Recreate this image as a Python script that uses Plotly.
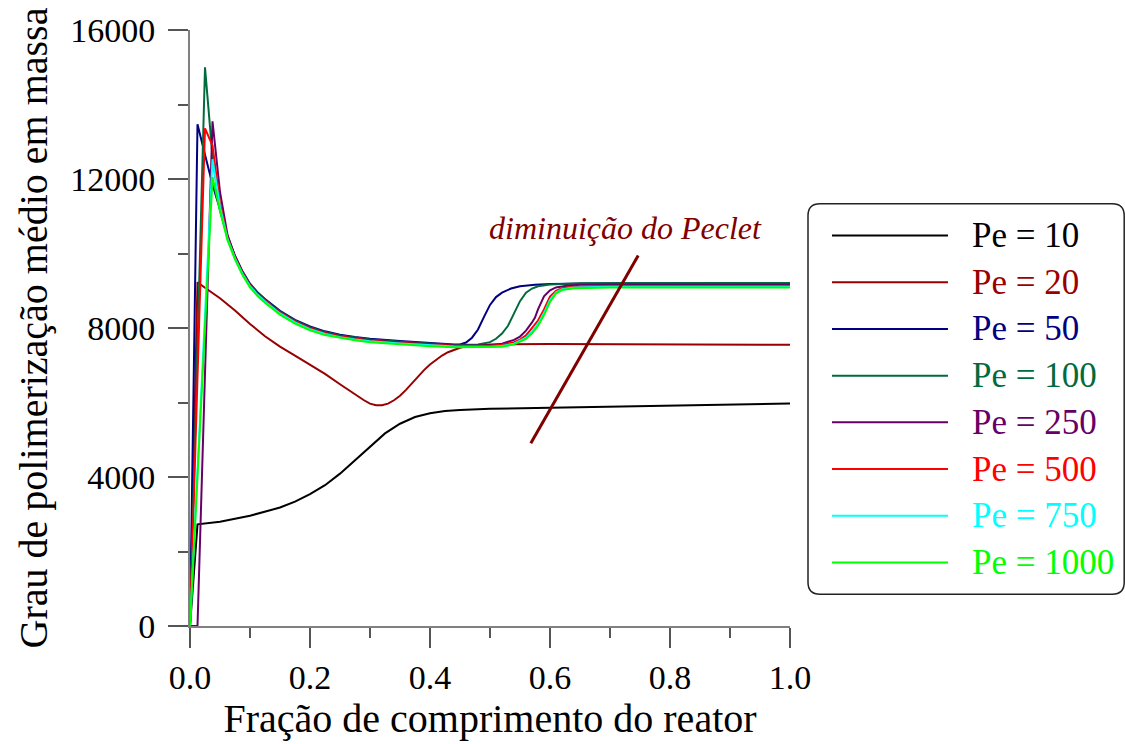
import plotly.graph_objects as go

# Fração de comprimento do reator (x) e grau de polimerização médio em massa (y)
x_pe10 = [0, 0.0125, 0.05, 0.1, 0.15, 0.175, 0.2, 0.225, 0.25, 0.275, 0.3, 0.325, 0.35,
          0.375, 0.4, 0.425, 0.45, 0.5, 0.6, 0.7, 0.8, 0.9, 1.0]
y_pe10 = [0, 2730, 2800, 2960, 3180, 3340, 3540, 3780, 4090, 4450, 4830, 5170, 5430,
          5610, 5710, 5770, 5800, 5830, 5860, 5890, 5920, 5950, 5970]

x_pe20 = [0, 0.0125, 0.025, 0.05, 0.075, 0.1, 0.125, 0.15, 0.175, 0.2, 0.225, 0.25, 0.27,
          0.28, 0.29, 0.3, 0.31, 0.32, 0.33, 0.34, 0.35, 0.36, 0.37, 0.38, 0.39, 0.4, 0.41,
          0.42, 0.43, 0.44, 0.45, 0.46, 0.48, 0.5, 0.6, 0.8, 1.0]
y_pe20 = [0, 9230, 9080, 8800, 8470, 8110, 7780, 7500, 7260, 7020, 6770, 6490, 6270,
          6160, 6060, 5970, 5925, 5925, 5970, 6060, 6180, 6340, 6520, 6700, 6870, 7020, 7150,
          7260, 7350, 7420, 7470, 7510, 7545, 7560, 7570, 7560, 7550]

# Décroissance comum após o pico (mesma grade x para Pe >= 50)
x_decay = [0.05, 0.0625, 0.075, 0.0875, 0.1, 0.1125, 0.125, 0.1375, 0.15, 0.175, 0.2,
           0.225, 0.25, 0.275, 0.3, 0.35, 0.4, 0.44]

x_head_pe50 = [0, 0.0125, 0.025, 0.0375]
y_head_pe50 = [0, 13470, 12650, 11850]
y_decay_pe50 = [11180, 10460, 9940, 9520, 9190, 8960, 8780, 8610, 8460, 8220, 8040,
                7910, 7820, 7760, 7710, 7650, 7590, 7560]
x_rise_pe50 = [0.45, 0.46, 0.47, 0.48, 0.49, 0.5, 0.51, 0.52, 0.535, 0.55, 0.575, 0.6,
               0.7, 0.8, 1.0]
y_rise_pe50 = [7560, 7610, 7740, 7960, 8300, 8620, 8830, 8950, 9060, 9120, 9160, 9180,
               9200, 9200, 9200]

x_head_pe100 = [0, 0.025, 0.0375]
y_head_pe100 = [0, 15000, 12600]
y_decay_pe100 = [11150, 10440, 9920, 9500, 9170, 8940, 8760, 8590, 8440, 8200, 8020,
                 7890, 7800, 7740, 7690, 7630, 7575, 7545]
x_rise_pe100 = [0.48, 0.5, 0.51, 0.52, 0.53, 0.54, 0.55, 0.56, 0.57, 0.58, 0.6, 0.65,
                0.8, 1.0]
y_rise_pe100 = [7560, 7620, 7710, 7850, 8060, 8380, 8720, 8950, 9060, 9120, 9170, 9200,
                9210, 9210]

x_head_pe250 = [0, 0.0125, 0.0375]
y_head_pe250 = [0, 0, 13550]
y_decay_pe250 = [11650, 10500, 9920, 9480, 9150, 8920, 8740, 8570, 8420, 8180, 8000,
                 7870, 7780, 7720, 7670, 7610, 7565, 7535]
x_rise_pe250 = [0.48, 0.5, 0.52, 0.54, 0.55, 0.56, 0.57, 0.575, 0.58, 0.59, 0.6, 0.61,
                0.625, 0.65, 0.7, 1.0]
y_rise_pe250 = [7530, 7540, 7580, 7680, 7770, 7930, 8150, 8280, 8500, 8850, 9010, 9090,
                9130, 9160, 9170, 9170]

x_head_pe500 = [0, 0.025, 0.0375]
y_head_pe500 = [0, 13360, 12900]
y_decay_pe500 = [11350, 10420, 9890, 9470, 9140, 8910, 8730, 8560, 8410, 8170, 7990,
                 7860, 7770, 7710, 7660, 7600, 7550, 7520]
x_rise_pe500 = [0.5, 0.52, 0.54, 0.55, 0.56, 0.57, 0.58, 0.59, 0.6, 0.61, 0.62, 0.64,
                0.7, 1.0]
y_rise_pe500 = [7520, 7550, 7620, 7690, 7800, 7990, 8200, 8500, 8840, 9000, 9070, 9110,
                9130, 9130]

x_head_pe750 = [0, 0.0375]
y_head_pe750 = [0, 12530]
y_decay_pe750 = [11250, 10390, 9870, 9450, 9120, 8890, 8710, 8540, 8390, 8150, 7970,
                 7840, 7750, 7690, 7645, 7585, 7535, 7505]
x_rise_pe750 = [0.5, 0.52, 0.54, 0.56, 0.57, 0.58, 0.59, 0.6, 0.61, 0.62, 0.64, 0.7, 1.0]
y_rise_pe750 = [7500, 7520, 7580, 7740, 7900, 8110, 8400, 8760, 8960, 9040, 9090, 9110,
                9110]

x_head_pe1000 = [0, 0.0375]
y_head_pe1000 = [0, 12050]
y_decay_pe1000 = [11150, 10360, 9840, 9420, 9090, 8860, 8680, 8510, 8360, 8120, 7940,
                  7810, 7730, 7670, 7620, 7560, 7510, 7480]
x_rise_pe1000 = [0.5, 0.52, 0.54, 0.56, 0.57, 0.58, 0.59, 0.6, 0.61, 0.62, 0.64, 0.7, 1.0]
y_rise_pe1000 = [7480, 7500, 7560, 7710, 7860, 8060, 8350, 8700, 8930, 9020, 9070, 9090,
                 9090]

series_labels = ["Pe = 10", "Pe = 20", "Pe = 50", "Pe = 100", "Pe = 250", "Pe = 500",
                 "Pe = 750", "Pe = 1000"]
series_colors = ["#000000", "#990000", "#000080", "#006b3c", "#660066", "#ff0000",
                 "#00ffff", "#00ff00"]

series_x = [x_pe10, x_pe20,
            x_head_pe50 + x_decay + x_rise_pe50,
            x_head_pe100 + x_decay + x_rise_pe100,
            x_head_pe250 + x_decay + x_rise_pe250,
            x_head_pe500 + x_decay + x_rise_pe500,
            x_head_pe750 + x_decay + x_rise_pe750,
            x_head_pe1000 + x_decay + x_rise_pe1000]
series_y = [y_pe10, y_pe20,
            y_head_pe50 + y_decay_pe50 + y_rise_pe50,
            y_head_pe100 + y_decay_pe100 + y_rise_pe100,
            y_head_pe250 + y_decay_pe250 + y_rise_pe250,
            y_head_pe500 + y_decay_pe500 + y_rise_pe500,
            y_head_pe750 + y_decay_pe750 + y_rise_pe750,
            y_head_pe1000 + y_decay_pe1000 + y_rise_pe1000]

# Traço indicando o sentido de diminuição do Peclet (coordenadas dos dados)
arrow_start = (0.568, 4907)
arrow_end = (0.747, 9947)
arrow_text_pos = (0.725, 10680)
arrow_text = "diminuição do Peclet"

serif = "Liberation Serif"

fig = go.Figure()
for xs, ys, name, col in zip(series_x, series_y, series_labels, series_colors):
    fig.add_trace(go.Scatter(x=xs, y=ys, mode="lines", name=name,
                             line=dict(color=col, width=2), showlegend=False))

fig.add_shape(type="line", xref="x", yref="y",
              x0=arrow_start[0], y0=arrow_start[1], x1=arrow_end[0], y1=arrow_end[1],
              line=dict(color="#800000", width=3))
fig.add_annotation(x=arrow_text_pos[0], y=arrow_text_pos[1], xref="x", yref="y",
                   text="<i>" + arrow_text + "</i>", showarrow=False,
                   font=dict(family=serif, size=32, color="#800000"))

# Caixa de legenda com cantos arredondados (coordenadas "paper")
bx0, bx1, by0, by1, r = 1.03, 1.557, 0.0533, 0.7083, 0.02
box_path = (f"M{bx0 + r},{by0} L{bx1 - r},{by0} Q{bx1},{by0} {bx1},{by0 + r} "
            f"L{bx1},{by1 - r} Q{bx1},{by1} {bx1 - r},{by1} L{bx0 + r},{by1} "
            f"Q{bx0},{by1} {bx0},{by1 - r} L{bx0},{by0 + r} Q{bx0},{by0} {bx0 + r},{by0} Z")
fig.add_shape(type="path", xref="paper", yref="paper", path=box_path,
              line=dict(color="#222222", width=1.5), fillcolor="white", layer="below")

row_top, row_step = 0.655, 47 / 600
for i, (name, col) in enumerate(zip(series_labels, series_colors)):
    yy = row_top - i * row_step
    fig.add_shape(type="line", xref="paper", yref="paper", x0=1.07, x1=1.2633,
                  y0=yy, y1=yy, line=dict(color=col, width=2))
    fig.add_annotation(x=1.3, y=yy, xref="paper", yref="paper", text=name,
                       showarrow=False, xanchor="left", yanchor="middle",
                       font=dict(family=serif, size=35, color=col))

axis_common = dict(showline=True, linecolor="#808080", linewidth=2, showgrid=False,
                   zeroline=False, ticks="outside", ticklen=20, tickwidth=1.5,
                   tickcolor="#555555", tickfont=dict(family=serif, size=34, color="black"))

fig.update_xaxes(range=[0, 1], tick0=0, dtick=0.2, tickformat=".1f",
                 minor=dict(dtick=0.1, ticks="outside", ticklen=10, tickwidth=1.5,
                            tickcolor="#555555"),
                 title=dict(text="Fração de comprimento do reator", standoff=8,
                            font=dict(family=serif, size=40, color="black")),
                 ticklabelstandoff=0, **axis_common)
fig.update_yaxes(range=[0, 16000], tick0=0, dtick=4000, tickformat="d",
                 minor=dict(dtick=2000, ticks="outside", ticklen=10, tickwidth=1.5,
                            tickcolor="#555555"),
                 title=dict(text="Grau de polimerização médio em massa", standoff=10,
                            font=dict(family=serif, size=40, color="black")),
                 ticklabelstandoff=6, **axis_common)

fig.update_layout(width=1125, height=744, paper_bgcolor="white", plot_bgcolor="white",
                  font=dict(family=serif),
                  margin=dict(l=190, r=335, t=30, b=114), showlegend=False)

fig.write_html("out.html")
